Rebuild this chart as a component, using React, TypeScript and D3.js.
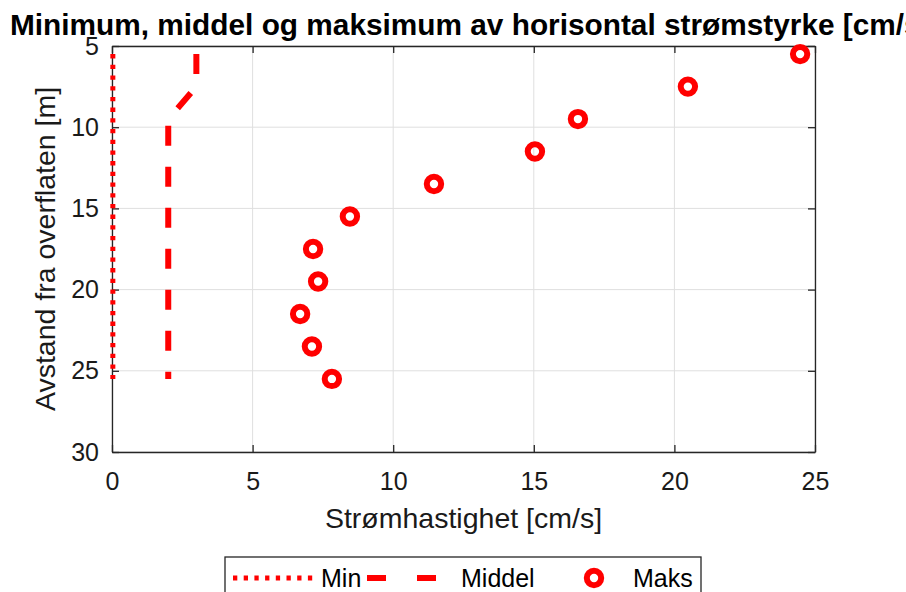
import React, { useEffect, useRef } from 'react';
import * as d3 from 'd3';

// depths [m] for every series
const depths = [5.5, 7.5, 9.5, 11.5, 13.5, 15.5, 17.5, 19.5, 21.5, 23.5, 25.5];
const minVals = [0.03, 0.03, 0.03, 0.03, 0.03, 0.03, 0.03, 0.03, 0.03, 0.03, 0.03];
const meanVals = [3, 3, 2, 2, 2, 2, 2, 2, 2, 2, 2];
const maxVals = [24.47, 20.48, 16.57, 15.04, 11.45, 8.46, 7.15, 7.33, 6.69, 7.11, 7.82];

const xTicks = [0, 5, 10, 15, 20, 25];
const yTicks = [5, 10, 15, 20, 25, 30];

const title = 'Minimum, middel og maksimum av horisontal strømstyrke [cm/s]';
const xLabel = 'Strømhastighet [cm/s]';
const yLabel = 'Avstand fra overflaten [m]';
const legendLabels = ['Min', 'Middel', 'Maks'];

const RED = '#ff0000';
const FONT = 'Arial, "Liberation Sans", sans-serif';
const DOTS = '4.3,6.4';
const DASHES = '20,21';

export default function App() {
  const svgRef = useRef<SVGSVGElement | null>(null);

  useEffect(() => {
    if (!svgRef.current) return;
    const svg = d3.select(svgRef.current);
    svg.selectAll('*').remove();

    const width = 906;
    const height = 592;
    const margin = { top: 46, right: 91, bottom: 140, left: 112 };
    const chartWidth = width - margin.left - margin.right;
    const chartHeight = height - margin.top - margin.bottom;

    svg.append('rect').attr('width', width).attr('height', height).attr('fill', '#fff');

    const xScale = d3.scaleLinear().domain([0, 25]).range([0, chartWidth]);
    const yScale = d3.scaleLinear().domain([5, 30]).range([0, chartHeight]);

    const g = svg.append('g').attr('transform', `translate(${margin.left},${margin.top})`);

    // grid
    g.append('g')
      .selectAll('line')
      .data(xTicks)
      .enter()
      .append('line')
      .attr('x1', d => xScale(d))
      .attr('x2', d => xScale(d))
      .attr('y1', 0)
      .attr('y2', chartHeight)
      .attr('stroke', '#dfdfdf')
      .attr('stroke-width', 1);
    g.append('g')
      .selectAll('line')
      .data(yTicks)
      .enter()
      .append('line')
      .attr('x1', 0)
      .attr('x2', chartWidth)
      .attr('y1', d => yScale(d))
      .attr('y2', d => yScale(d))
      .attr('stroke', '#dfdfdf')
      .attr('stroke-width', 1);

    // axes (ticks inside, like MATLAB)
    const xAxis = d3.axisBottom(xScale).tickValues(xTicks).tickSizeInner(-7).tickSizeOuter(0).tickPadding(20);
    const yAxis = d3.axisLeft(yScale).tickValues(yTicks).tickSizeInner(-7).tickSizeOuter(0).tickPadding(13);
    const xTop = d3.axisTop(xScale).tickValues(xTicks).tickSizeInner(-7).tickSizeOuter(0).tickFormat(() => '');
    const yRight = d3.axisRight(yScale).tickValues(yTicks).tickSizeInner(-7).tickSizeOuter(0).tickFormat(() => '');

    g.append('g').attr('class', 'axis').attr('transform', `translate(0,${chartHeight})`).call(xAxis);
    g.append('g').attr('class', 'axis').call(yAxis);
    g.append('g').attr('class', 'axis').call(xTop);
    g.append('g').attr('class', 'axis').attr('transform', `translate(${chartWidth},0)`).call(yRight);

    svg.selectAll('.axis path, .axis line').attr('stroke', '#262626').attr('stroke-width', 1.3);
    svg.selectAll('.axis text')
      .attr('fill', '#1a1a1a')
      .style('font-size', '25px')
      .style('font-family', FONT);

    const content = g.append('g');

    const line = d3.line<number>()
      .x(d => xScale(d))
      .y((_, i) => yScale(depths[i]));

    // Min: dotted
    content.append('path')
      .datum(minVals)
      .attr('d', line)
      .attr('fill', 'none')
      .attr('stroke', RED)
      .attr('stroke-width', 5)
      .attr('stroke-dasharray', DOTS);

    // Middel: dashed
    content.append('path')
      .datum(meanVals)
      .attr('d', line)
      .attr('fill', 'none')
      .attr('stroke', RED)
      .attr('stroke-width', 6)
      .attr('stroke-dasharray', DASHES);

    // Maks: circles
    content.selectAll('circle')
      .data(maxVals)
      .enter()
      .append('circle')
      .attr('cx', d => xScale(d))
      .attr('cy', (_, i) => yScale(depths[i]))
      .attr('r', 7.2)
      .attr('fill', 'none')
      .attr('stroke', RED)
      .attr('stroke-width', 6);

    // title (runs past the right edge, as in the original)
    svg.append('text')
      .attr('x', 10)
      .attr('y', 35)
      .attr('font-family', FONT)
      .attr('font-weight', 'bold')
      .attr('font-size', 29.8)
      .attr('fill', '#000')
      .text(title);

    // axis labels
    svg.append('text')
      .attr('x', margin.left + chartWidth / 2)
      .attr('y', 528)
      .attr('text-anchor', 'middle')
      .attr('font-family', FONT)
      .attr('font-size', 28.5)
      .attr('fill', '#1a1a1a')
      .text(xLabel);
    svg.append('text')
      .attr('transform', `translate(55,${margin.top + chartHeight / 2}) rotate(-90)`)
      .attr('text-anchor', 'middle')
      .attr('font-family', FONT)
      .attr('font-size', 28.5)
      .attr('fill', '#1a1a1a')
      .text(yLabel);

    // legend
    const lg = svg.append('g').attr('transform', 'translate(225,557)');
    lg.append('rect')
      .attr('width', 476)
      .attr('height', 50)
      .attr('fill', '#fff')
      .attr('stroke', '#262626')
      .attr('stroke-width', 1.3);
    const ly = 21;
    lg.append('line').attr('x1', 8).attr('x2', 90).attr('y1', ly).attr('y2', ly)
      .attr('stroke', RED).attr('stroke-width', 5).attr('stroke-dasharray', DOTS);
    lg.append('line').attr('x1', 142).attr('x2', 212).attr('y1', ly).attr('y2', ly)
      .attr('stroke', RED).attr('stroke-width', 6).attr('stroke-dasharray', '19,31');
    lg.append('circle').attr('cx', 369).attr('cy', ly).attr('r', 7.2)
      .attr('fill', 'none').attr('stroke', RED).attr('stroke-width', 6);
    const lx = [96, 236, 408];
    lg.selectAll('text.l')
      .data(legendLabels)
      .enter()
      .append('text')
      .attr('x', (_, i) => lx[i])
      .attr('y', 30)
      .attr('font-family', FONT)
      .attr('font-size', 25)
      .attr('fill', '#000')
      .text(d => d);
  }, []);

  return (
    <svg
      ref={svgRef}
      width={906}
      height={592}
      style={{ position: 'absolute', left: 0, top: 0, display: 'block' }}
    />
  );
}
